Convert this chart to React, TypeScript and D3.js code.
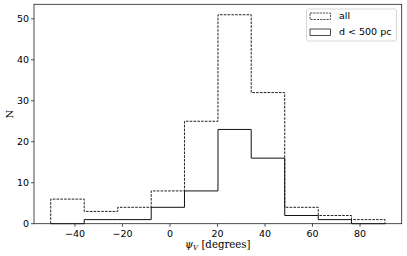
import * as d3 from "d3";

// bin edges (degrees) and counts per bin
const binEdges = [-50.2, -36.1, -22.0, -7.9, 6.1, 20.2, 34.2, 48.3, 62.4, 76.4, 90.5];
const countsAll = [6, 3, 4, 8, 25, 51, 32, 4, 2, 1];
const countsNear = [0, 1, 1, 4, 8, 23, 16, 2, 1, 0];
const xTicks = [-40, -20, 0, 20, 40, 60, 80];
const yTicks = [0, 10, 20, 30, 40, 50];
const legendLabels = ["all", "d < 500 pc"];

const W = 407;
const H = 256;
const m = { left: 34, right: 5.3, top: 4.3, bottom: 32.3 };

function stepPath(x: d3.ScaleLinear<number, number>, y: d3.ScaleLinear<number, number>, counts: number[]) {
  const pts: [number, number][] = [[x(binEdges[0]), y(0)]];
  counts.forEach((c, i) => {
    pts.push([x(binEdges[i]), y(c)]);
    pts.push([x(binEdges[i + 1]), y(c)]);
  });
  pts.push([x(binEdges[binEdges.length - 1]), y(0)]);
  return d3.line()(pts) as string;
}

export default function App() {
  const x0 = binEdges[0];
  const x1 = binEdges[binEdges.length - 1];
  const pad = (x1 - x0) * 0.05;
  const x = d3.scaleLinear().domain([x0 - pad, x1 + pad]).range([m.left, W - m.right]);
  const yMax = d3.max(countsAll) as number;
  const y = d3.scaleLinear().domain([0, yMax * 1.05]).range([H - m.bottom, m.top]);
  const font = "DejaVu Sans, sans-serif";
  const fs = 9.5;

  const lx = 306.5;
  const ly = 9;

  return (
    <svg width={W} height={H} style={{ position: "absolute", left: 0, top: 0 }}>
      <rect width={W} height={H} fill="white" />
      <path d={stepPath(x, y, countsAll)} fill="none" stroke="#222" strokeWidth={1} strokeDasharray="2.6,1.2" />
      <path d={stepPath(x, y, countsNear)} fill="none" stroke="#111" strokeWidth={1} />
      <rect x={m.left} y={m.top} width={W - m.left - m.right} height={H - m.top - m.bottom} fill="none" stroke="#222" strokeWidth={0.8} />
      {xTicks.map((t) => (
        <g key={t} transform={`translate(${x(t)},${H - m.bottom})`}>
          <line y2={3} stroke="#222" strokeWidth={0.8} />
          <text y={13} textAnchor="middle" fontFamily={font} fontSize={fs} fill="#000">
            {t < 0 ? `\u2212${Math.abs(t)}` : t}
          </text>
        </g>
      ))}
      {yTicks.map((t) => (
        <g key={t} transform={`translate(${m.left},${y(t)})`}>
          <line x2={-3} stroke="#222" strokeWidth={0.8} />
          <text x={-5} dy="0.35em" textAnchor="end" fontFamily={font} fontSize={fs} fill="#000">
            {t}
          </text>
        </g>
      ))}
      <text x={(m.left + W - m.right) / 2} y={247.5} textAnchor="middle" fontFamily="DejaVu Serif, serif" fontSize={10.2} fill="#000">
        <tspan fontStyle="italic">ψ</tspan>
        <tspan fontStyle="italic" fontSize={7} dy={2}>V</tspan>
        <tspan dy={-2}> [degrees]</tspan>
      </text>
      <text transform={`translate(12.5,${(m.top + H - m.bottom) / 2}) rotate(-90)`} textAnchor="middle" fontFamily="DejaVu Serif, serif" fontSize={10} fill="#000">
        N
      </text>
      <g>
        <rect x={lx} y={ly} width={90} height={32} rx={2} fill="white" fillOpacity={0.8} stroke="#ccc" strokeWidth={0.8} />
        {legendLabels.map((l, i) => (
          <g key={l} transform={`translate(${lx},${ly + 7 + i * 16})`}>
            <rect x={3.5} y={-3} width={20.5} height={6.5} fill="none" stroke="#222" strokeWidth={0.8} strokeDasharray={i === 0 ? "2.2,1" : undefined} />
            <text x={32.5} dy="0.35em" fontFamily={font} fontSize={fs} fill="#000">
              {l}
            </text>
          </g>
        ))}
      </g>
    </svg>
  );
}
